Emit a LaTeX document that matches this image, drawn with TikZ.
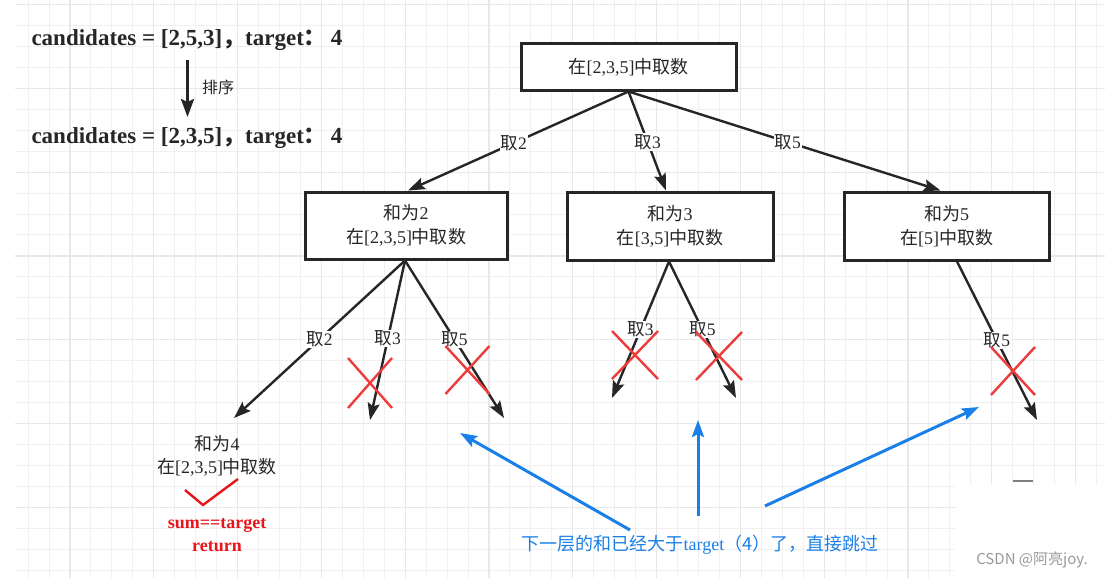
\documentclass[tikz,border=0pt]{standalone}
\usepackage{fontspec}
\setmainfont{Liberation Serif}
\newfontfamily\cjk{Noto Sans CJK SC}
\newfontfamily\wmfont{Noto Sans CJK SC}
\newcommand\zh[1]{{\cjk #1}}
\usetikzlibrary{arrows.meta}
\definecolor{gridminor}{HTML}{F0F0F0}
\definecolor{gridmajor}{HTML}{E8E8E8}
\definecolor{ink}{HTML}{262626}
\definecolor{xred}{HTML}{EE3B3B}
\definecolor{tred}{HTML}{E8141B}
\definecolor{skyblue}{HTML}{1A80E8}
\definecolor{wmgray}{HTML}{9A9A9A}
\begin{document}
\begin{tikzpicture}[x=1pt,y=-1pt,
  box/.style={draw=ink, line width=3pt, fill=white, align=center, text=ink,
    font=\fontsize{18}{24}\selectfont, inner sep=0pt},
  arr/.style={draw=ink, line width=2.4pt, -{Stealth[length=17pt,width=12pt,inset=3pt]}},
  lab/.style={fill=white, inner sep=1pt, text=ink, font=\fontsize{17.5}{20}\selectfont},
  cross/.style={draw=xred, line width=2.4pt},
  barr/.style={draw=skyblue, line width=3pt, -{Stealth[length=17pt,width=12pt,inset=3pt]}},
  plain/.style={text=ink, align=center, font=\fontsize{18}{23}\selectfont},
  bigtxt/.style={text=ink, anchor=west, font=\fontsize{23}{26}\selectfont\bfseries},
]
\useasboundingbox (0,0) rectangle (1105,578);
\fill[white] (0,0) rectangle (1105,578);
% grid
\foreach \i in {0,...,51} {\draw[gridminor, line width=1pt] ({28.1+20.95*\i},0) -- ({28.1+20.95*\i},578);}
\foreach \i in {0,...,27} {\draw[gridminor, line width=1pt] (15,{4.5+20.95*\i}) -- (1105,{4.5+20.95*\i});}
\foreach \i in {0,...,12} {\draw[gridmajor, line width=1.2pt] ({70+83.8*\i},0) -- ({70+83.8*\i},578);}
\foreach \i in {0,...,6} {\draw[gridmajor, line width=1.2pt] (15,{4.5+83.8*\i}) -- (1105,{4.5+83.8*\i});}
\fill[white] (955,485) rectangle (1105,578);
\draw[gray, line width=1.5pt] (1013,481) -- (1033,481);

% left texts
\node[bigtxt] (c1) at (28,40) {candidates = [2,5,3]{\cjk\bfseries ，}target{\cjk\bfseries ：}\,4};
\node[bigtxt] (c2) at (28,138) {candidates = [2,3,5]{\cjk\bfseries ，}target{\cjk\bfseries ：}\,4};
\coordinate (s1) at (187.5,60);
\coordinate (s2) at (187.5,117);
\draw[draw=ink, line width=3pt, -{Stealth[length=18pt,width=13pt,inset=3pt]}] (s1) -- (s2);
\node[text=ink, font=\fontsize{16}{18}\selectfont] (sortlab) at (218,87) {\zh{排序}};

% boxes
\node[box, minimum width=215pt, minimum height=46pt] (top) at (628.5,67) {\zh{在}[2,3,5]\zh{中取数}};
\node[box, minimum width=202pt, minimum height=67pt] (b2) at (406,225.5) {\zh{和为}2\\\zh{在}[2,3,5]\zh{中取数}};
\node[box, minimum width=206pt, minimum height=68pt] (b3) at (670,226) {\zh{和为}3\\\zh{在}[3,5]\zh{中取数}};
\node[box, minimum width=205pt, minimum height=68pt] (b5) at (946.5,226) {\zh{和为}5\\\zh{在}[5]\zh{中取数}};

% first level
\draw[arr] (top.south) -- node[lab, pos=0.52] {\zh{取}2} ([xshift=2pt]b2.north);
\draw[arr] (top.south) -- node[lab, pos=0.51] {\zh{取}3} ([xshift=-4pt]b3.north);
\draw[arr] (top.south) -- node[lab, pos=0.51] {\zh{取}5} ([xshift=-6pt]b5.north);

% second level
\coordinate (e21) at (234,418);
\coordinate (e23) at (370,420);
\coordinate (e25) at (504,418);
\coordinate (e33) at (612,398);
\coordinate (e35) at (736,398);
\coordinate (e55) at (1037,420);
\draw[arr] ([xshift=-1pt]b2.south) -- node[lab, pos=0.5] {\zh{取}2} (e21);
\draw[arr] ([xshift=-1pt]b2.south) -- node[lab, pos=0.49] {\zh{取}3} (e23);
\draw[arr] ([xshift=-1pt]b2.south) -- node[lab, pos=0.5] {\zh{取}5} (e25);
\draw[arr] ([xshift=-1pt]b3.south) -- node[lab, pos=0.5] {\zh{取}3} (e33);
\draw[arr] ([xshift=-1pt]b3.south) -- node[lab, pos=0.5] {\zh{取}5} (e35);
\draw[arr] ([xshift=10.5pt]b5.south) -- node[lab, pos=0.5] {\zh{取}5} (e55);

% red crosses
\foreach \cx/\cy/\hx/\hy in {370/383/22/25, 467.5/370/22/24, 635/355/23/24, 719/356/23/24, 1013/371/22/24} {
  \draw[cross] ({\cx-\hx},{\cy-\hy}) -- ({\cx+\hx},{\cy+\hy});
  \draw[cross] ({\cx-\hx},{\cy+\hy}) -- ({\cx+\hx},{\cy-\hy});
}

% leaf
\node[plain] (leaf) at (217,456) {\zh{和为}4\\\zh{在}[2,3,5]\zh{中取数}};
\draw[draw=tred, line width=2.4pt] (185,490) -- (203,505) -- (238,479);
\node[text=tred, align=center, font=\fontsize{18}{23}\selectfont\bfseries] (ret) at (217,535) {sum==target\\return};

% blue note
\node[text=skyblue, font=\fontsize{18}{20}\selectfont] (note) at (700,545) {\zh{下一层的和已经大于}target\zh{（4）了，直接跳过}};
\coordinate (n1) at (630,530);
\coordinate (n2) at (698,516);
\coordinate (n3) at (765,506);
\coordinate (t1) at (460,433);
\coordinate (t2) at (698,420);
\coordinate (t3) at (979,407);
\draw[barr] (n1) -- (t1);
\draw[barr] (n2) -- (t2);
\draw[barr] (n3) -- (t3);

% watermark
\node[text=wmgray, font=\fontsize{15}{16}\selectfont\wmfont] (wm) at (1032,560) {CSDN @阿亮joy.};
\end{tikzpicture}
\end{document}
